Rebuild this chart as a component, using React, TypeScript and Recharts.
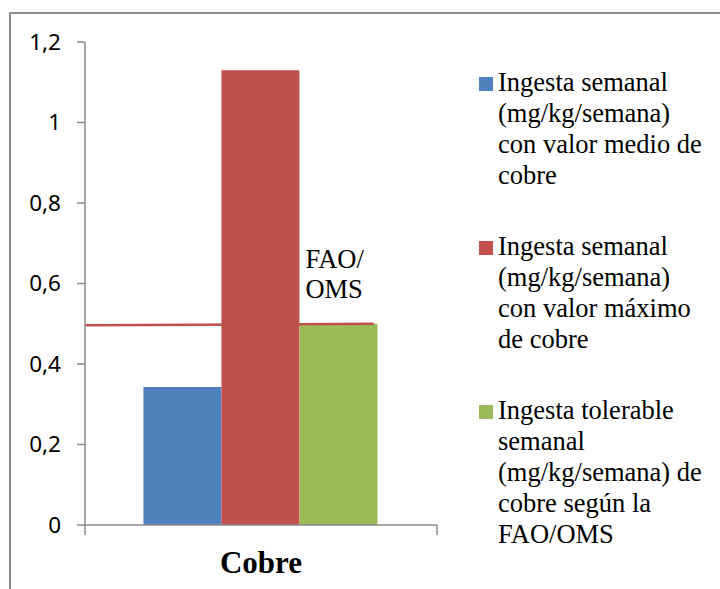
import React from "react";
import {
	Bar,
	BarChart,
	LabelList,
	ReferenceLine,
	XAxis,
	YAxis,
} from "recharts";

// copper intake per week, mg/kg/semana
const categories = ["Cobre"];
const mediaValues = [0.343];
const maximoValues = [1.13];
const toleradaValues = [0.5];

const seriesLabels = [
	"Ingesta semanal (mg/kg/semana) con valor medio de cobre",
	"Ingesta semanal (mg/kg/semana) con valor máximo de cobre",
	"Ingesta tolerable semanal (mg/kg/semana) de cobre según la FAO/OMS",
];
const seriesColors = ["#4f81bd", "#c0504d", "#9bbb59"];

const yTicks = [0, 0.2, 0.4, 0.6, 0.8, 1, 1.2];
const yDomain = [0, 1.2];

// FAO/OMS limit: drawn from the axis to 82% of the plot, starting a touch low
const limitValue = 0.5;
const limitStartValue = 0.496;
const limitSpan = 0.82;
const limitLabel = ["FAO/", "OMS"];

const SERIF = '"Liberation Serif", "Times New Roman", serif';
const AXIS_GREY = "#8a8a8a";
const PLOT_HEIGHT = 483;

const data = categories.map((name, i) => ({
	name,
	media: mediaValues[i],
	maximo: maximoValues[i],
	tolerada: toleradaValues[i],
}));

const fmt = (v: number) => String(v).replace(".", ",");

const CategoryTick = (props: any) => {
	const { x, y, payload } = props;
	const half = payload && payload.offset ? payload.offset : 176;
	return (
		<g>
			<line x1={x - half} y1={y} x2={x - half} y2={y + 10} stroke={AXIS_GREY} strokeWidth={1.5} />
			<line x1={x + half} y1={y} x2={x + half} y2={y + 10} stroke={AXIS_GREY} strokeWidth={1.5} />
			<text
				x={x}
				y={y + 48}
				textAnchor="middle"
				fontFamily={SERIF}
				fontWeight="bold"
				fontSize={31}
				fill="#000"
			>
				{payload.value}
			</text>
		</g>
	);
};

const LimitLabel = (props: any) => {
	const vb = props.viewBox || props;
	const x = vb.x + 6;
	const y = vb.y;
	return (
		<text x={x} y={y - 56} fontFamily={SERIF} fontSize={26.5} fill="#000">
			{limitLabel.map((line, i) => (
				<tspan key={line} x={x} dy={i === 0 ? 0 : 30}>
					{line}
				</tspan>
			))}
		</text>
	);
};

const LimitShape = (props: any) => {
	const { x1, y1, x2, y2 } = props;
	const drop = ((limitValue - limitStartValue) / (yDomain[1] - yDomain[0])) * PLOT_HEIGHT;
	return (
		<line
			x1={x1}
			y1={y1 + drop}
			x2={x1 + (x2 - x1) * limitSpan}
			y2={y2}
			stroke={seriesColors[1]}
			strokeWidth={2.5}
		/>
	);
};

const LegendBox = () => (
	<div
		style={{
			position: "absolute",
			left: 479,
			top: 67,
			fontFamily: SERIF,
			fontSize: 26.5,
			lineHeight: "31px",
			color: "#000",
		}}
	>
		{seriesLabels.map((label, i) => (
			<div key={label} style={{ display: "flex", marginBottom: 40 }}>
				<span
					style={{
						display: "block",
						width: 14,
						height: 14,
						marginTop: 10,
						marginRight: 5,
						flex: "0 0 auto",
						background: seriesColors[i],
					}}
				/>
				<div style={{ width: 212 }}>{label}</div>
			</div>
		))}
	</div>
);

export default function App() {
	return (
		<div
			style={{
				position: "absolute",
				left: 0,
				top: 0,
				width: 720,
				height: 589,
				overflow: "hidden",
				background: "#fff",
			}}
		>
			<div
				style={{
					position: "absolute",
					left: 9,
					top: 12,
					width: 740,
					height: 620,
					borderTop: "2px solid #8c8c8c",
					borderLeft: "2px solid #8c8c8c",
				}}
			/>
			<div style={{ position: "absolute", left: 0, top: 0 }}>
				<BarChart
					width={720}
					height={589}
					data={data}
					margin={{ top: 42, right: 283, left: 25, bottom: 4 }}
					barGap={0}
					barCategoryGap="16.6%"
				>
					<XAxis
						dataKey="name"
						height={60}
						tickLine={false}
						tickSize={0}
						tickMargin={0}
						stroke={AXIS_GREY}
						strokeWidth={1.5}
						tick={<CategoryTick />}
					/>
					<YAxis
						width={60}
						domain={yDomain}
						ticks={yTicks}
						tickFormatter={fmt}
						tickSize={8}
						tickMargin={16}
						stroke={AXIS_GREY}
						strokeWidth={1.5}
						tick={{ fill: "#000", fontSize: 22.5, fontFamily: '"Noto Sans", sans-serif' }}
					/>
					<Bar dataKey="media" fill={seriesColors[0]} isAnimationActive={false} />
					<Bar dataKey="maximo" fill={seriesColors[1]} isAnimationActive={false} />
					<Bar dataKey="tolerada" fill={seriesColors[2]} isAnimationActive={false}>
						<LabelList dataKey="tolerada" content={<LimitLabel />} />
					</Bar>
					<ReferenceLine y={limitValue} shape={<LimitShape />} />
				</BarChart>
			</div>
			<LegendBox />
		</div>
	);
}
